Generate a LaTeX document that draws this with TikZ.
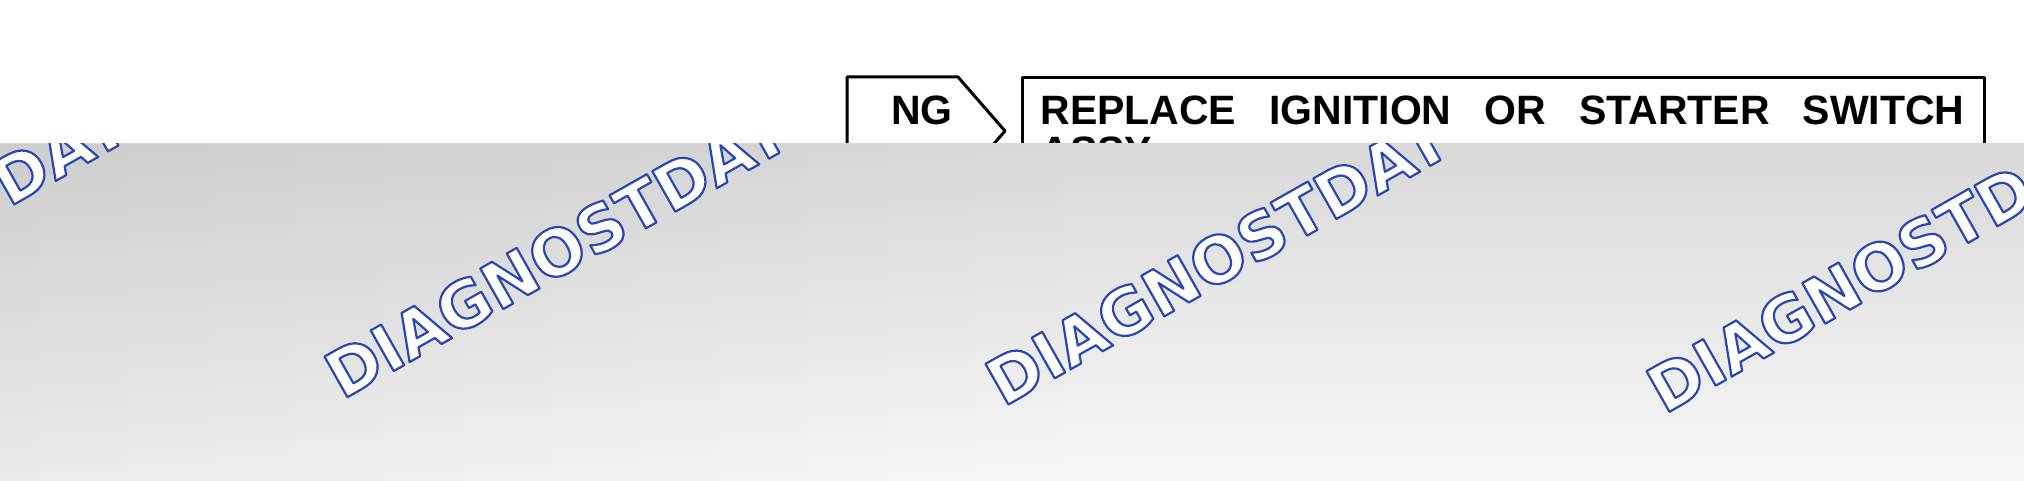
\documentclass[tikz,border=0pt]{standalone}
\usepackage{fontspec}
\setmainfont{Liberation Sans}
\newfontfamily\markfont{DejaVu Sans}
\usetikzlibrary{fadings}
\newcommand{\hollow}[1]{\special{pdf:literal direct 0.16 0.28 0.70 RG 1 j 1.1 w 2 Tr}#1\special{pdf:literal direct 0 Tr}}

\begin{document}
\begin{tikzpicture}[x=0.5pt,y=-0.5pt,
  tagstyle/.style={draw,line width=1.5pt,line join=round},
  wordstyle/.style={font=\bfseries\fontsize{20.5}{20}\selectfont,inner sep=0pt,anchor=base west},
  markstyle/.style={font=\markfont\bfseries\fontsize{32}{32}\selectfont,text=white,inner sep=0pt,anchor=base west,rotate=29.5}]
 \useasboundingbox (0,0) rectangle (2024,481);
 \fill[white] (0,0) rectangle (2024,481);

 \draw[tagstyle] (847,77) -- (958,77) -- (1005,131) -- (958,185) -- (847,185) -- cycle;
 \node [wordstyle,anchor=base] (ng) at (922,125) {NG};
 \draw[tagstyle] (1022,78) rectangle (1984,210);
 \node [wordstyle] (line1) at (1040,125) {\makebox[462pt][s]{REPLACE IGNITION OR STARTER SWITCH}};
 \node [wordstyle] (line2) at (1040,165) {ASSY};

 \shade[top color=black!15,bottom color=black!3] (0,144) rectangle (2024,481);
 \fill[black,opacity=0.05,path fading=east] (0,144) rectangle (1100,481);
 \begin{scope}
  \clip (0,144) rectangle (2024,481);
  \foreach \i in {0,...,3}
     {\pgfmathsetmacro{\mx}{-319+661*\i}
      \pgfmathsetmacro{\my}{393+7.3*\i}
      \node [markstyle] (mark\i) at (\mx,\my) {\hollow{DIAGNOSTDAT}};}
 \end{scope}
\end{tikzpicture}
\end{document}
